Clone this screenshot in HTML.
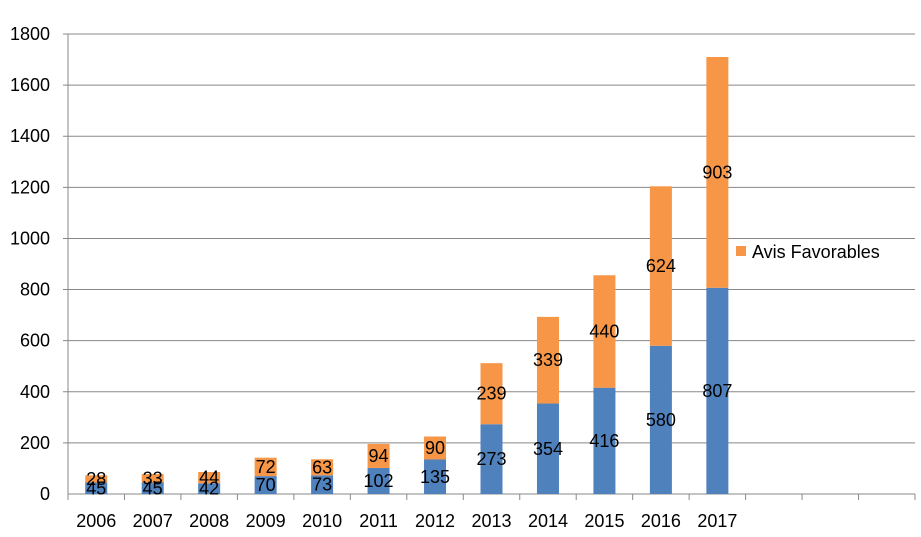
<!DOCTYPE html>
<html><head><meta charset="utf-8"><style>
body{margin:0;background:#fff;}
svg{display:block;font-family:"Liberation Sans",sans-serif;}
</style></head><body>
<svg id="chart" width="921" height="537"></svg>
<script>
const categories=["2006","2007","2008","2009","2010","2011","2012","2013","2014","2015","2016","2017"];
const seriesBlue=[45,45,42,70,73,102,135,273,354,416,580,807];
const seriesOrange=[28,33,44,72,63,94,90,239,339,440,624,903];
const yTicks=[0,200,400,600,800,1000,1200,1400,1600,1800];
const slots=15;
const NS="http://www.w3.org/2000/svg";
const svg=document.getElementById('chart');
const x0=68,x1=915,y0=494,y1=34,yMax=1800;
const sw=(x1-x0)/slots;
const y=v=>y0-(v/yMax)*(y0-y1);
const xc=i=>x0+sw*(i+0.5);
function mk(tag,attrs,text){const e=document.createElementNS(NS,tag);for(const k in attrs)e.setAttribute(k,attrs[k]);if(text!==undefined)e.textContent=text;svg.appendChild(e);return e;}
yTicks.forEach(t=>{
  const g=mk('line',{x1:t===0?x0:x0-5,x2:x1,y1:y(t),y2:y(t),stroke:'#888','stroke-width':1});
  
  
  const l=mk('text',{x:50,y:y(t)+6,'text-anchor':'end','font-size':18,fill:'#000'},String(t));
  
  
});
const ax=mk('line',{x1:x0,x2:x0,y1:y1,y2:y0+6,stroke:'#888','stroke-width':1});


for(let i=0;i<=slots;i++){
  const tk=mk('line',{x1:x0+sw*i,x2:x0+sw*i,y1:y0,y2:y0+6,stroke:'#888','stroke-width':1});
  
  
}
const bw=22;
categories.forEach((c,i)=>{
  const b=seriesBlue[i],o=seriesOrange[i];
  const rb=mk('rect',{x:xc(i)-bw/2,y:y(b),width:bw,height:y0-y(b),fill:'#4f81bd'});
  
  
  const ro=mk('rect',{x:xc(i)-bw/2,y:y(b+o),width:bw,height:y(b)-y(b+o),fill:'#f79646'});
  
  
  const lb=mk('text',{x:xc(i),y:(y0+y(b))/2+6,'text-anchor':'middle','font-size':18,fill:'#000'},String(b));
  
  
  const lo=mk('text',{x:xc(i),y:(y(b)+y(b+o))/2+6,'text-anchor':'middle','font-size':18,fill:'#000'},String(o));
  
  
  const xl=mk('text',{x:xc(i),y:527,'text-anchor':'middle','font-size':18,fill:'#000'},c);
  
  
});
const ls=mk('rect',{x:736,y:246,width:10,height:10,fill:'#f79646'});


const lt=mk('text',{x:752,y:258,'font-size':18,fill:'#000'},'Avis Favorables');


</script>
</body></html>
